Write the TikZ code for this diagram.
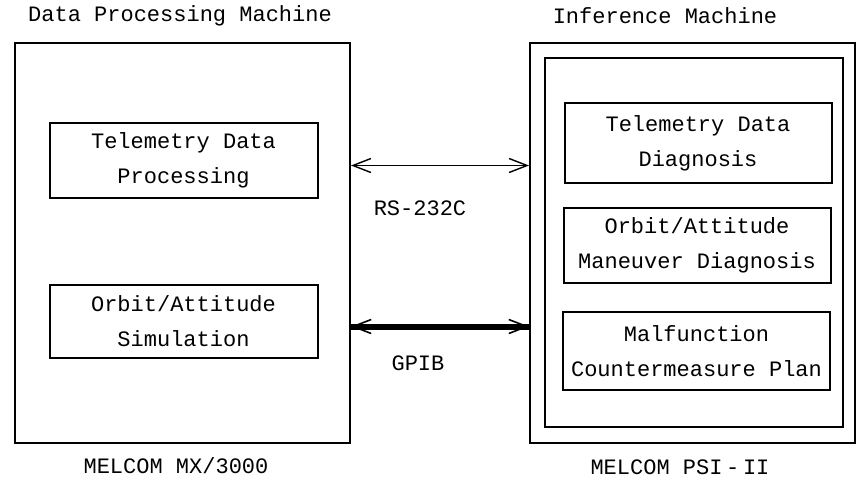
\documentclass[tikz,border=0pt]{standalone}
\usepackage{fontspec}
\setmonofont{Liberation Mono}
\usetikzlibrary{arrows.meta}
\begin{document}
\begin{tikzpicture}[
    x=0.5pt, y=-0.5pt,
    txt/.style={font=\ttfamily\fontsize{11}{17.5}\selectfont, align=center, inner sep=0pt},
    frame/.style={draw=black, line width=1pt, inner sep=0pt},
    unit/.style={frame, txt, minimum width=134pt},
    arr/.style={{Straight Barb[length=9pt,width=7pt]}-{Straight Barb[length=9pt,width=7pt]}, line width=0.7pt},
    bus/.style={line width=3pt, postaction={draw, arr, line width=0.8pt}}
]
\useasboundingbox (0,0) rectangle (859,482);
% outer machines
\node[frame, minimum width=167.5pt, minimum height=200pt] (dpm) at (182.5,243) {};
\node[frame, minimum width=162.5pt, minimum height=200pt] (im) at (692.5,243) {};
\node[frame, minimum width=149pt, minimum height=184.5pt] (imin) at (694,242.5) {};
% titles
\node[txt] (dpmt) at (180,16) {Data Processing Machine};
\node[txt] (imt) at (665,16) {Inference Machine};
\node[txt] (dpmn) at (176,466) {MELCOM MX/3000};
\node[txt] (imn) at (680,467) {MELCOM PSI\,-\,II};
% units
\node[unit, minimum height=37.5pt] (tdp) at (183.5,160.5) {Telemetry Data\\Processing};
\node[unit, minimum height=36.5pt] (oas) at (183.5,321.5) {Orbit/Attitude\\Simulation};
\node[unit, minimum width=133.5pt, minimum height=40pt] (tdd) at (698,143) {Telemetry Data\\Diagnosis};
\node[unit, minimum width=133.5pt, minimum height=37.5pt] (omd) at (697,245.5) {Orbit/Attitude\\Maneuver Diagnosis};
\node[unit, minimum width=133.5pt, minimum height=39pt] (mcp) at (696.5,351) {Malfunction\\Countermeasure Plan};
% links
\draw[arr] ([yshift=-2.5pt]dpm.east |- tdp.center) -- ([yshift=-2.5pt]im.west |- tdp.center);
\draw[bus] ([yshift=-2.5pt]dpm.east |- oas.center) -- ([yshift=-2.5pt]im.west |- oas.center);
\node[txt] (rs) at (420,208) {RS-232C};
\node[txt] (gp) at (418,363) {GPIB};
\end{tikzpicture}
\end{document}
